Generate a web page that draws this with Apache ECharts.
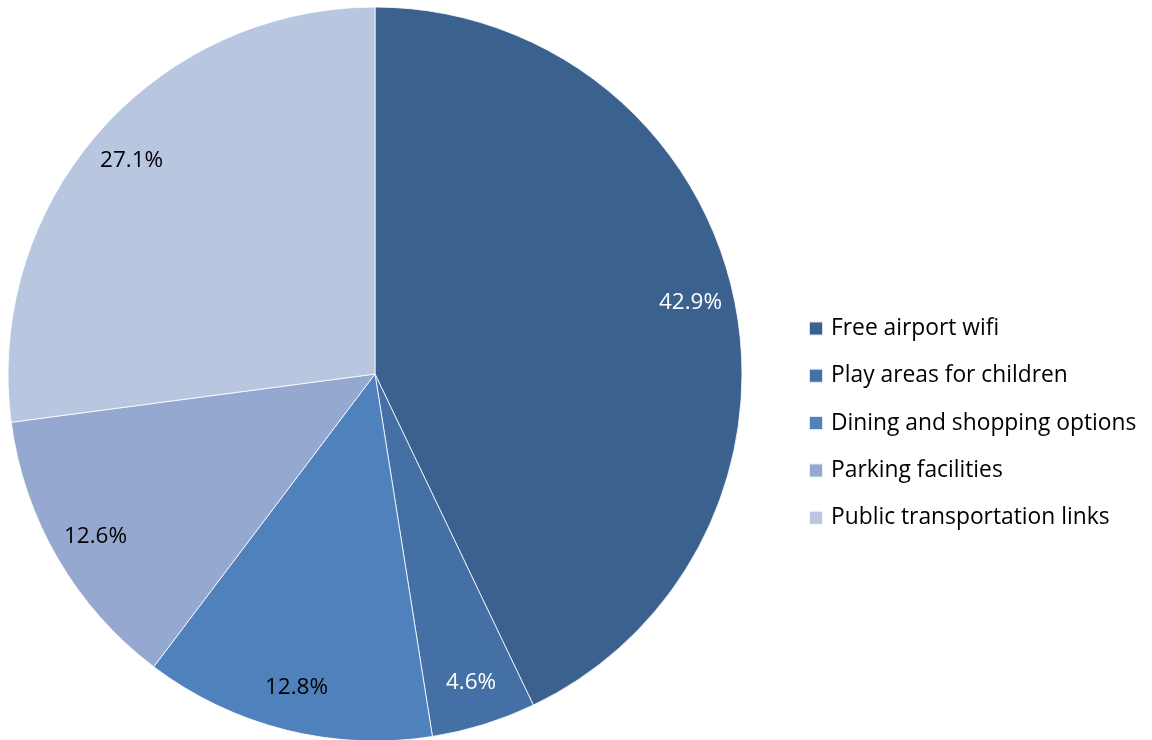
<!DOCTYPE html>
<html><head><meta charset="utf-8">
<script src="https://cdn.jsdelivr.net/npm/echarts@6/dist/echarts.min.js"></script>
<style>html,body{margin:0;padding:0;background:#fff}#c{width:1152px;height:740px}</style>
</head><body><div id="c"></div>
<script>
const categories = ["Free airport wifi","Play areas for children","Dining and shopping options","Parking facilities","Public transportation links"];
const values = [42.9, 4.6, 12.8, 12.6, 27.1];
const colors = ["#3B618F","#4470A5","#4F81BD","#95A9D0","#B9C6E0"];
const labelColors = ["#ffffff","#ffffff","#000000","#000000","#000000"];

const FONT = "'Open Sans', 'Liberation Sans', Arial, sans-serif";
const pieData = categories.map((n,i)=>({name:n,value:values[i],itemStyle:{color:colors[i]}}));
const labelData = categories.map((n,i)=>({name:n,value:values[i],label:{color:labelColors[i]}}));

const chart = echarts.init(document.getElementById('c'), null, {renderer:'canvas'});
chart.setOption({
  animation:false,
  backgroundColor:'#fff',
  legend:{
    orient:'vertical', left:808, top:317, padding:0,
    itemWidth:14, itemHeight:14, itemGap:24.3,
    icon:'rect',
    textStyle:{fontFamily:FONT, fontSize:22.8, color:'#000', lineHeight:22, padding:[0,0,0,3]},
    data:categories
  },
  series:[
    {type:'pie', center:[375,374], radius:[0,367], startAngle:90, clockwise:true,
     label:{show:false}, labelLine:{show:false}, silent:true,
     itemStyle:{borderColor:'rgba(255,255,255,0.8)', borderWidth:1},
     data:pieData},
    {type:'pie', center:[375,374], radius:[274,367], startAngle:90, clockwise:true,
     silent:true, legendHoverLink:false,
     itemStyle:{color:'rgba(0,0,0,0)', borderWidth:0},
     label:{show:true, position:'inside', fontFamily:FONT, fontSize:22.5, padding:[4,0,0,0],
            formatter:p=>p.value.toFixed(1)+'%'},
     labelLine:{show:false},
     data:labelData}
  ]
});
</script></body></html>
